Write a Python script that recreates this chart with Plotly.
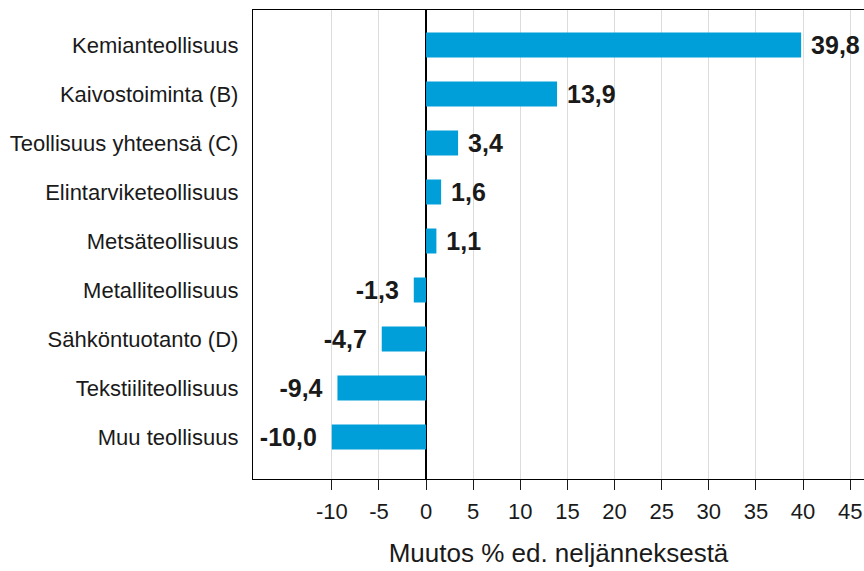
import plotly.graph_objects as go

categories = ["Kemianteollisuus", "Kaivostoiminta (B)", "Teollisuus yhteensä (C)",
              "Elintarviketeollisuus", "Metsäteollisuus", "Metalliteollisuus",
              "Sähköntuotanto (D)", "Tekstiiliteollisuus", "Muu teollisuus"]
values = [39.8, 13.9, 3.4, 1.6, 1.1, -1.3, -4.7, -9.4, -10.0]
tick_values = [-10, -5, 0, 5, 10, 15, 20, 25, 30, 35, 40, 45]
axis_title = "Muutos % ed. neljänneksestä"

labels = []
for v in values:
    s = f"{v:.1f}".replace(".", ",")
    labels.append("\u00a0" + s if v >= 0 else s + "\u00a0\u2009")

fig = go.Figure(go.Bar(
    x=values, y=categories, orientation="h",
    marker=dict(color="#009FDA", line=dict(width=0)),
    width=0.51,
    text=labels, textposition="outside", cliponaxis=False, constraintext="none",
    textfont=dict(family="Liberation Sans, Arial", size=25, color="#1a1a1a", weight="bold"),
    hoverinfo="skip",
))

fig.update_layout(
    width=864, height=571,
    margin=dict(l=253, r=0, t=10, b=92, pad=0),
    plot_bgcolor="white", paper_bgcolor="white",
    showlegend=False,
    font=dict(family="Liberation Sans, Arial", color="#1a1a1a"),
)
fig.update_xaxes(
    range=[-18.36, 46.47],
    tickvals=tick_values,
    ticktext=[str(t) for t in tick_values],
    tickfont=dict(family="Liberation Sans, Arial", size=22, color="#1a1a1a"),
    ticks="outside", ticklen=10, tickcolor="#1a1a1a", tickwidth=1,
    ticklabelstandoff=2,
    showgrid=True, gridcolor="#dcdcdc", gridwidth=1,
    zeroline=True, zerolinecolor="#000000", zerolinewidth=1.2,
    showline=True, linecolor="#000000", linewidth=1.2, mirror=True,
    title=dict(text=axis_title, font=dict(family="Liberation Sans, Arial", size=26, color="#1a1a1a"), standoff=21),
)
fig.update_yaxes(
    categoryorder="array", categoryarray=categories,
    autorange=False, range=[8.857, -0.714],
    showline=True, linecolor="#000000", linewidth=1.2,
    showgrid=False, ticks="", ticklabelstandoff=9,
    tickfont=dict(family="Liberation Sans, Arial", size=22, color="#1a1a1a"),
)

fig.write_html(
    "out.html",
    config={"displayModeBar": False, "staticPlot": True},
    post_script="document.body.style.margin='0';document.documentElement.style.overflow='hidden';",
)
